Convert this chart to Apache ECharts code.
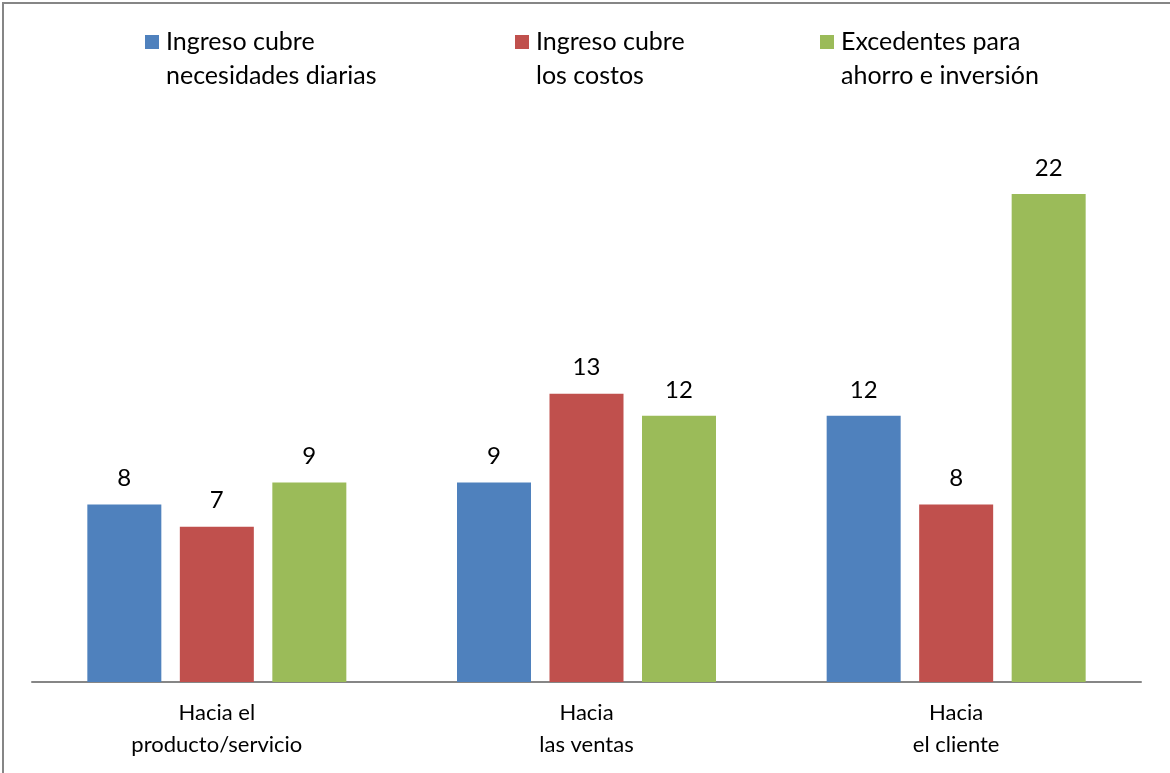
<!DOCTYPE html>
<html><head><meta charset="utf-8">
<script src="https://cdn.jsdelivr.net/npm/echarts@6/dist/echarts.min.js"></script>
<style>html,body{margin:0;padding:0;background:#fff}#c{width:1170px;height:773px}</style>
</head><body><div id="c"></div>
<script>
var categories = ['Hacia el\nproducto/servicio', 'Hacia\nlas ventas', 'Hacia\nel cliente'];
var seriesNames = ['Ingreso cubre\nnecesidades diarias', 'Ingreso cubre\nlos costos', 'Excedentes para\nahorro e inversión'];
var necesidades = [8, 9, 12];
var costos = [7, 13, 8];
var excedentes = [9, 12, 22];
var colors = ['#4F81BD', '#C0504D', '#9BBB59'];
var legendLefts = [145, 515, 820];

var FONT = 'Lato, "Open Sans", sans-serif';
var values = [necesidades, costos, excedentes];
var chart = echarts.init(document.getElementById('c'), null, {renderer: 'canvas'});
var legends = seriesNames.map(function (n, i) {
  return {
    data: [n], left: legendLefts[i] - 5, top: -14, orient: 'horizontal',
    icon: 'rect', itemWidth: 14, itemHeight: 14, itemGap: 0,
    selectedMode: false,
    formatter: function (name) { return ' \n' + name; },
    textStyle: {fontFamily: FONT, fontSize: 25, color: '#000', lineHeight: 34, padding: [0, 0, 0, 2]}
  };
});
chart.setOption({
  animation: false,
  color: colors,
  legend: legends,
  grid: {left: 32, right: 29, top: 127.5, bottom: 91, containLabel: false},
  xAxis: {
    type: 'category', data: categories,
    axisLine: {lineStyle: {color: '#868686', width: 2}},
    axisTick: {show: false},
    axisLabel: {fontFamily: FONT, fontSize: 22, color: '#000', lineHeight: 32, margin: 15}
  },
  yAxis: {type: 'value', min: 0, max: 25, show: false, splitLine: {show: false}},
  graphic: [
    {type: 'line', shape: {x1: 3, y1: 2, x2: 3, y2: 773}, style: {stroke: '#868686', lineWidth: 2}, silent: true},
    {type: 'line', shape: {x1: 2, y1: 3, x2: 1170, y2: 3}, style: {stroke: '#868686', lineWidth: 2}, silent: true}
  ],
  series: values.map(function (v, i) {
    return {
      type: 'bar', name: seriesNames[i], data: v, barWidth: 74, barGap: '25%',
      label: {show: true, position: 'top', distance: 14, fontFamily: FONT, fontSize: 24, color: '#000'}
    };
  })
});
</script></body></html>
